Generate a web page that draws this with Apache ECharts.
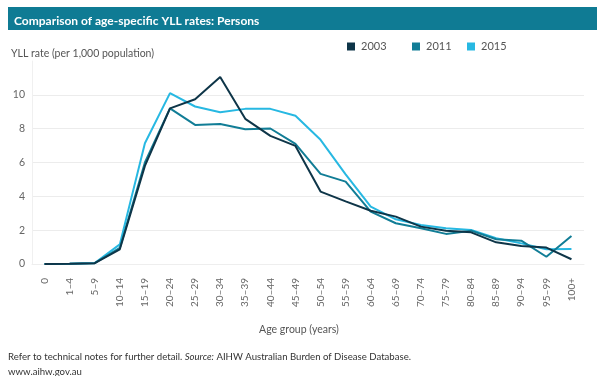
<!DOCTYPE html>
<html>
<head>
<meta charset="utf-8">
<script src="https://cdn.jsdelivr.net/npm/echarts@6/dist/echarts.min.js"></script>
<style>
  html, body { margin: 0; padding: 0; background: #fff; }
  #chart { width: 600px; height: 376px; }
</style>
</head>
<body>
<div id="chart"></div>
<script>
var ageGroups = ['0', '1–4', '5–9', '10–14', '15–19', '20–24', '25–29', '30–34', '35–39', '40–44', '45–49',
  '50–54', '55–59', '60–64', '65–69', '70–74', '75–79', '80–84', '85–89', '90–94', '95–99', '100+'];

var yll2003 = [0.0, 0.02, 0.05, 0.87, 5.8, 9.2, 9.74, 11.05, 8.58, 7.57, 6.98,
  4.28, 3.7, 3.15, 2.8, 2.21, 1.97, 1.87, 1.28, 1.07, 0.97, 0.28];
var yll2011 = [0.0, 0.02, 0.05, 0.95, 6.0, 9.2, 8.22, 8.28, 7.97, 8.01, 7.1,
  5.33, 4.87, 3.1, 2.41, 2.11, 1.78, 1.97, 1.46, 1.38, 0.43, 1.66];
var yll2015 = [0.0, 0.02, 0.06, 1.16, 7.14, 10.1, 9.31, 8.97, 9.17, 9.17, 8.76,
  7.34, 5.3, 3.39, 2.64, 2.31, 2.11, 2.01, 1.52, 1.22, 0.87, 0.89];

var colors = { '2003': '#0e3548', '2011': '#117d96', '2015': '#27b8e2' };
var font = 'Lato, "Open Sans", sans-serif';

var chart = echarts.init(document.getElementById('chart'));

function legendFor(name, left) {
  return {
    data: [name],
    left: left,
    top: 36,
    icon: 'rect',
    itemWidth: 8,
    itemHeight: 8,
    itemGap: 0,
    textStyle: { color: '#555', fontSize: 11, fontFamily: font, padding: [0, 0, 0, 1] }
  };
}

var option = {
  backgroundColor: '#fff',
  animation: false,
  graphic: [{
    type: 'rect',
    left: 8,
    top: 7,
    shape: { width: 589, height: 23 },
    style: { fill: '#0f7b94' },
    z: 0
  }],
  title: [{
    text: 'Comparison of age-specific YLL rates: Persons',
    left: 9,
    top: 10,
    textStyle: { color: '#fff', fontSize: 12, fontWeight: 'bold', fontFamily: font },
    z: 10
  }, {
    text: 'YLL rate (per 1,000 population)',
    left: 6,
    top: 43,
    textStyle: { color: '#555', fontSize: 10.5, fontWeight: 'normal', fontFamily: font }
  }, {
    text: 'Refer to technical notes for further detail. {i|Source:} AIHW Australian Burden of Disease Database.\nwww.aihw.gov.au',
    left: 3,
    top: 344,
    textStyle: {
      color: '#333', fontSize: 9.6, fontWeight: 'normal', fontFamily: font, lineHeight: 15,
      rich: { i: { fontStyle: 'italic', fontSize: 9.6, fontFamily: font, color: '#333' } }
    }
  }],
  legend: [legendFor('2003', 342), legendFor('2011', 407), legendFor('2015', 462)],
  grid: { left: 32, right: 16, top: 61, bottom: 112 },
  xAxis: {
    type: 'category',
    data: ageGroups,
    boundaryGap: true,
    offset: 10,
    axisLine: { show: true, lineStyle: { color: '#eeeeee' } },
    axisTick: { show: false },
    axisLabel: { rotate: 90, interval: 0, margin: 4, color: '#666', fontSize: 10, fontFamily: font },
    name: 'Age group (years)',
    nameLocation: 'middle',
    nameGap: 50,
    nameTextStyle: { color: '#555', fontSize: 10.5, fontFamily: font, padding: [0, 18, 0, 0] }
  },
  yAxis: {
    type: 'value',
    min: 0,
    max: 12,
    interval: 2,
    axisLine: { show: true, lineStyle: { color: '#f0f0f0' } },
    axisTick: { show: false },
    axisLabel: { showMaxLabel: false, margin: 7, color: '#666', fontSize: 10.5, fontFamily: font },
    splitLine: { lineStyle: { color: ['#ececec', '#ececec', '#ececec', '#ececec', '#ececec', '#ececec', 'rgba(0,0,0,0)'] } }
  },
  series: [
    { name: '2003', type: 'line', data: yll2003, symbol: 'none', lineStyle: { width: 2, color: colors['2003'] }, itemStyle: { color: colors['2003'] }, z: 4 },
    { name: '2011', type: 'line', data: yll2011, symbol: 'none', lineStyle: { width: 2, color: colors['2011'] }, itemStyle: { color: colors['2011'] }, z: 3 },
    { name: '2015', type: 'line', data: yll2015, symbol: 'none', lineStyle: { width: 2, color: colors['2015'] }, itemStyle: { color: colors['2015'] }, z: 2 }
  ]
};

chart.setOption(option);
</script>
</body>
</html>
